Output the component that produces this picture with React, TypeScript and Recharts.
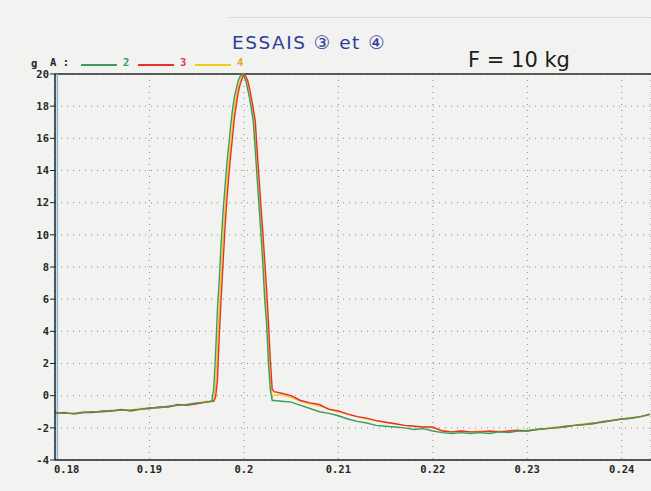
import React from 'react';
import { LineChart, Line, XAxis, YAxis, CartesianGrid, ReferenceLine } from 'recharts';

// time axis (s): slow baseline, fine steps through the shock pulse, then the tail
const TIME = [
  0.180, 0.181, 0.182, 0.183, 0.184, 0.185, 0.186, 0.187, 0.188, 0.189,
  0.190, 0.191, 0.192, 0.193, 0.194, 0.195, 0.196,
  0.1966, 0.1968, 0.1970, 0.1972, 0.1974, 0.1976, 0.1978, 0.1980, 0.1982, 0.1984,
  0.1986, 0.1988, 0.1990, 0.1992, 0.1994, 0.1996, 0.1998, 0.2000, 0.2002, 0.2004,
  0.2006, 0.2008, 0.2010, 0.2012, 0.2014, 0.2016, 0.2018, 0.2020, 0.2022, 0.2024,
  0.2026, 0.2028, 0.2030, 0.2032,
  0.204, 0.205, 0.206, 0.207, 0.208, 0.209, 0.210, 0.211, 0.212, 0.213,
  0.214, 0.215, 0.216, 0.217, 0.218, 0.219, 0.220, 0.221, 0.222, 0.223,
  0.224, 0.225, 0.226, 0.227, 0.228, 0.229, 0.230, 0.231, 0.232, 0.233,
  0.234, 0.235, 0.236, 0.237, 0.238, 0.239, 0.240, 0.241, 0.242, 0.243,
];

// acceleration (g) for each run
const ESSAI_2 = [
  -1.05, -1.1, -1.1, -1.05, -1.0, -1.0, -0.95, -0.9, -0.9, -0.85,
  -0.75, -0.75, -0.65, -0.6, -0.55, -0.45, -0.4,
  -0.35, 0.4, 2.6, 5.4, 7.3, 9.6, 11.5, 13.0, 14.45, 15.6,
  16.8, 17.8, 18.6, 19.1, 19.6, 19.85, 20.0, 19.85, 19.6, 19.05,
  18.5, 17.8, 17.0, 15.3, 13.5, 11.8, 10.1, 8.2, 6.0, 4.5,
  2.0, 0.35, -0.3, -0.3,
  -0.35, -0.4, -0.6, -0.8, -1.0, -1.1, -1.25, -1.45, -1.6, -1.7,
  -1.85, -1.9, -1.95, -2.0, -2.1, -2.05, -2.2, -2.3, -2.35, -2.3,
  -2.35, -2.3, -2.35, -2.25, -2.3, -2.2, -2.2, -2.1, -2.05, -2.0,
  -1.95, -1.85, -1.8, -1.7, -1.65, -1.55, -1.45, -1.4, -1.3, -1.15,
];

const ESSAI_3 = [
  -1.1, -1.05, -1.15, -1.05, -1.05, -0.95, -0.95, -0.85, -0.95, -0.85,
  -0.8, -0.7, -0.7, -0.55, -0.6, -0.5, -0.4,
  -0.35, -0.35, -0.1, 1.0, 3.85, 6.15, 8.3, 10.45, 12.2, 13.65,
  14.95, 16.1, 17.3, 18.1, 18.85, 19.35, 19.7, 20.0, 19.85, 19.6,
  19.1, 18.5, 17.8, 17.1, 15.3, 13.6, 11.8, 10.2, 8.4, 6.6,
  4.6, 2.2, 0.4, 0.25,
  0.15, 0.0, -0.3, -0.45, -0.55, -0.85, -0.95, -1.15, -1.3, -1.4,
  -1.55, -1.65, -1.75, -1.85, -1.9, -1.95, -1.95, -2.2, -2.25, -2.2,
  -2.25, -2.25, -2.2, -2.25, -2.2, -2.15, -2.2, -2.1, -2.05, -2.0,
  -1.9, -1.85, -1.8, -1.75, -1.6, -1.55, -1.45, -1.4, -1.3, -1.15,
];

const ESSAI_4 = [
  -1.05, -1.1, -1.1, -1.0, -1.0, -1.0, -0.9, -0.9, -0.9, -0.8,
  -0.8, -0.75, -0.7, -0.6, -0.55, -0.5, -0.35,
  -0.35, -0.35, 0.6, 3.0, 5.6, 7.6, 9.9, 11.7, 13.2, 14.6,
  15.75, 16.9, 17.9, 18.65, 19.15, 19.6, 19.85, 20.0, 19.75, 19.35,
  18.8, 18.15, 17.5, 16.2, 14.4, 12.65, 10.95, 9.2, 7.4, 5.5,
  3.3, 1.0, -0.1, 0.05,
  0.05, -0.1, -0.35, -0.5, -0.65, -0.8, -1.0, -1.15, -1.3, -1.45,
  -1.55, -1.65, -1.75, -1.85, -1.9, -1.95, -2.0, -2.15, -2.25, -2.2,
  -2.25, -2.2, -2.25, -2.2, -2.25, -2.2, -2.15, -2.1, -2.05, -1.95,
  -1.95, -1.85, -1.75, -1.7, -1.65, -1.5, -1.45, -1.35, -1.3, -1.2,
];

const X_TICKS = [0.18, 0.19, 0.2, 0.21, 0.22, 0.23, 0.24];
const Y_TICKS = [-4, -2, 0, 2, 4, 6, 8, 10, 12, 14, 16, 18, 20];
const CURSOR_T = 0.18025;

const SERIES = [
  { key: 'e4', name: '4', color: '#efcc1c', label: '#e0ac10' },
  { key: 'e3', name: '3', color: '#e5322c', label: '#e2305e' },
  { key: 'e2', name: '2', color: '#3d9a63', label: '#3d9a63' },
];
const LEGEND_ORDER = ['e2', 'e3', 'e4'];

const data = TIME.map((t, i) => ({ t, e2: ESSAI_2[i], e3: ESSAI_3[i], e4: ESSAI_4[i] }));

const tickFont = {
  fontFamily: 'DejaVu Sans Mono',
  fontWeight: 'bold' as const,
  fontSize: 10.5,
  fill: '#262626',
};

const labelStyle: React.CSSProperties = {
  fontFamily: 'DejaVu Sans Mono',
  fontWeight: 'bold',
  fontSize: 10.5,
  color: '#262626',
  lineHeight: '12px',
};

function TimeTick(props: any) {
  const { x, y, payload, index } = props;
  const first = index === 0;
  return (
    <text
      x={first ? x - 1 : x}
      y={y + 11}
      textAnchor={first ? 'start' : 'middle'}
      {...tickFont}
    >
      {String(payload.value)}
    </text>
  );
}

export default function App() {
  return (
    <div
      style={{
        position: 'absolute',
        left: 0,
        top: 0,
        width: 651,
        height: 491,
        background: '#f2f2f0',
        overflow: 'hidden',
      }}
    >
      <div
        style={{
          position: 'absolute',
          left: 228,
          top: 17,
          width: 423,
          borderTop: '1px dotted #b7d0e0',
        }}
      />
      <div
        style={{
          position: 'absolute',
          left: 232,
          top: 32,
          fontFamily: 'DejaVu Sans',
          fontSize: 18.5,
          letterSpacing: 1.5,
          color: '#2d3c9c',
        }}
      >
        ESSAIS ③ et ④
      </div>
      <div
        style={{
          position: 'absolute',
          left: 468,
          top: 48,
          fontFamily: 'DejaVu Sans',
          fontSize: 21,
          color: '#1c1c1c',
        }}
      >
        F = 10 kg
      </div>

      <LineChart width={651} height={491} data={data} margin={{ top: 74, right: 0, bottom: 0, left: 0 }}>
        <CartesianGrid stroke="#8c8c8c" strokeDasharray="1 5" />
        <XAxis
          dataKey="t"
          type="number"
          domain={[0.18, 0.2431]}
          ticks={X_TICKS}
          allowDataOverflow
          height={31}
          tickSize={0}
          tickLine={false}
          axisLine={{ stroke: '#222', strokeWidth: 1.5 }}
          tick={<TimeTick />}
        />
        <YAxis
          type="number"
          domain={[-4, 20]}
          ticks={Y_TICKS}
          width={55}
          tickSize={5}
          tickMargin={1}
          interval={0}
          axisLine={{ stroke: '#222', strokeWidth: 1.5 }}
          tickLine={{ stroke: '#222' }}
          tick={tickFont}
        />
        <ReferenceLine y={20} stroke="#2a2a2a" strokeWidth={1.5} />
        <ReferenceLine x={CURSOR_T} stroke="#7fb8e6" strokeWidth={1.5} />
        {SERIES.map((s) => (
          <Line
            key={s.key}
            dataKey={s.key}
            name={s.name}
            type="linear"
            stroke={s.color}
            strokeWidth={1.4}
            dot={false}
            isAnimationActive={false}
          />
        ))}
      </LineChart>

      {/* legend strip as printed above the frame */}
      <div style={{ position: 'absolute', left: 31, top: 57, ...labelStyle }}>g</div>
      <div style={{ position: 'absolute', left: 50, top: 56, ...labelStyle }}>A :</div>
      {LEGEND_ORDER.map((k, i) => {
        const s = SERIES.find((d) => d.key === k)!;
        const left = 81 + i * 57;
        return (
          <React.Fragment key={k}>
            <div
              style={{
                position: 'absolute',
                left,
                top: 64,
                width: 36,
                height: 2,
                background: s.color,
              }}
            />
            <div style={{ position: 'absolute', left: left + 42, top: 56, ...labelStyle, color: s.label }}>
              {s.name}
            </div>
          </React.Fragment>
        );
      })}
    </div>
  );
}
